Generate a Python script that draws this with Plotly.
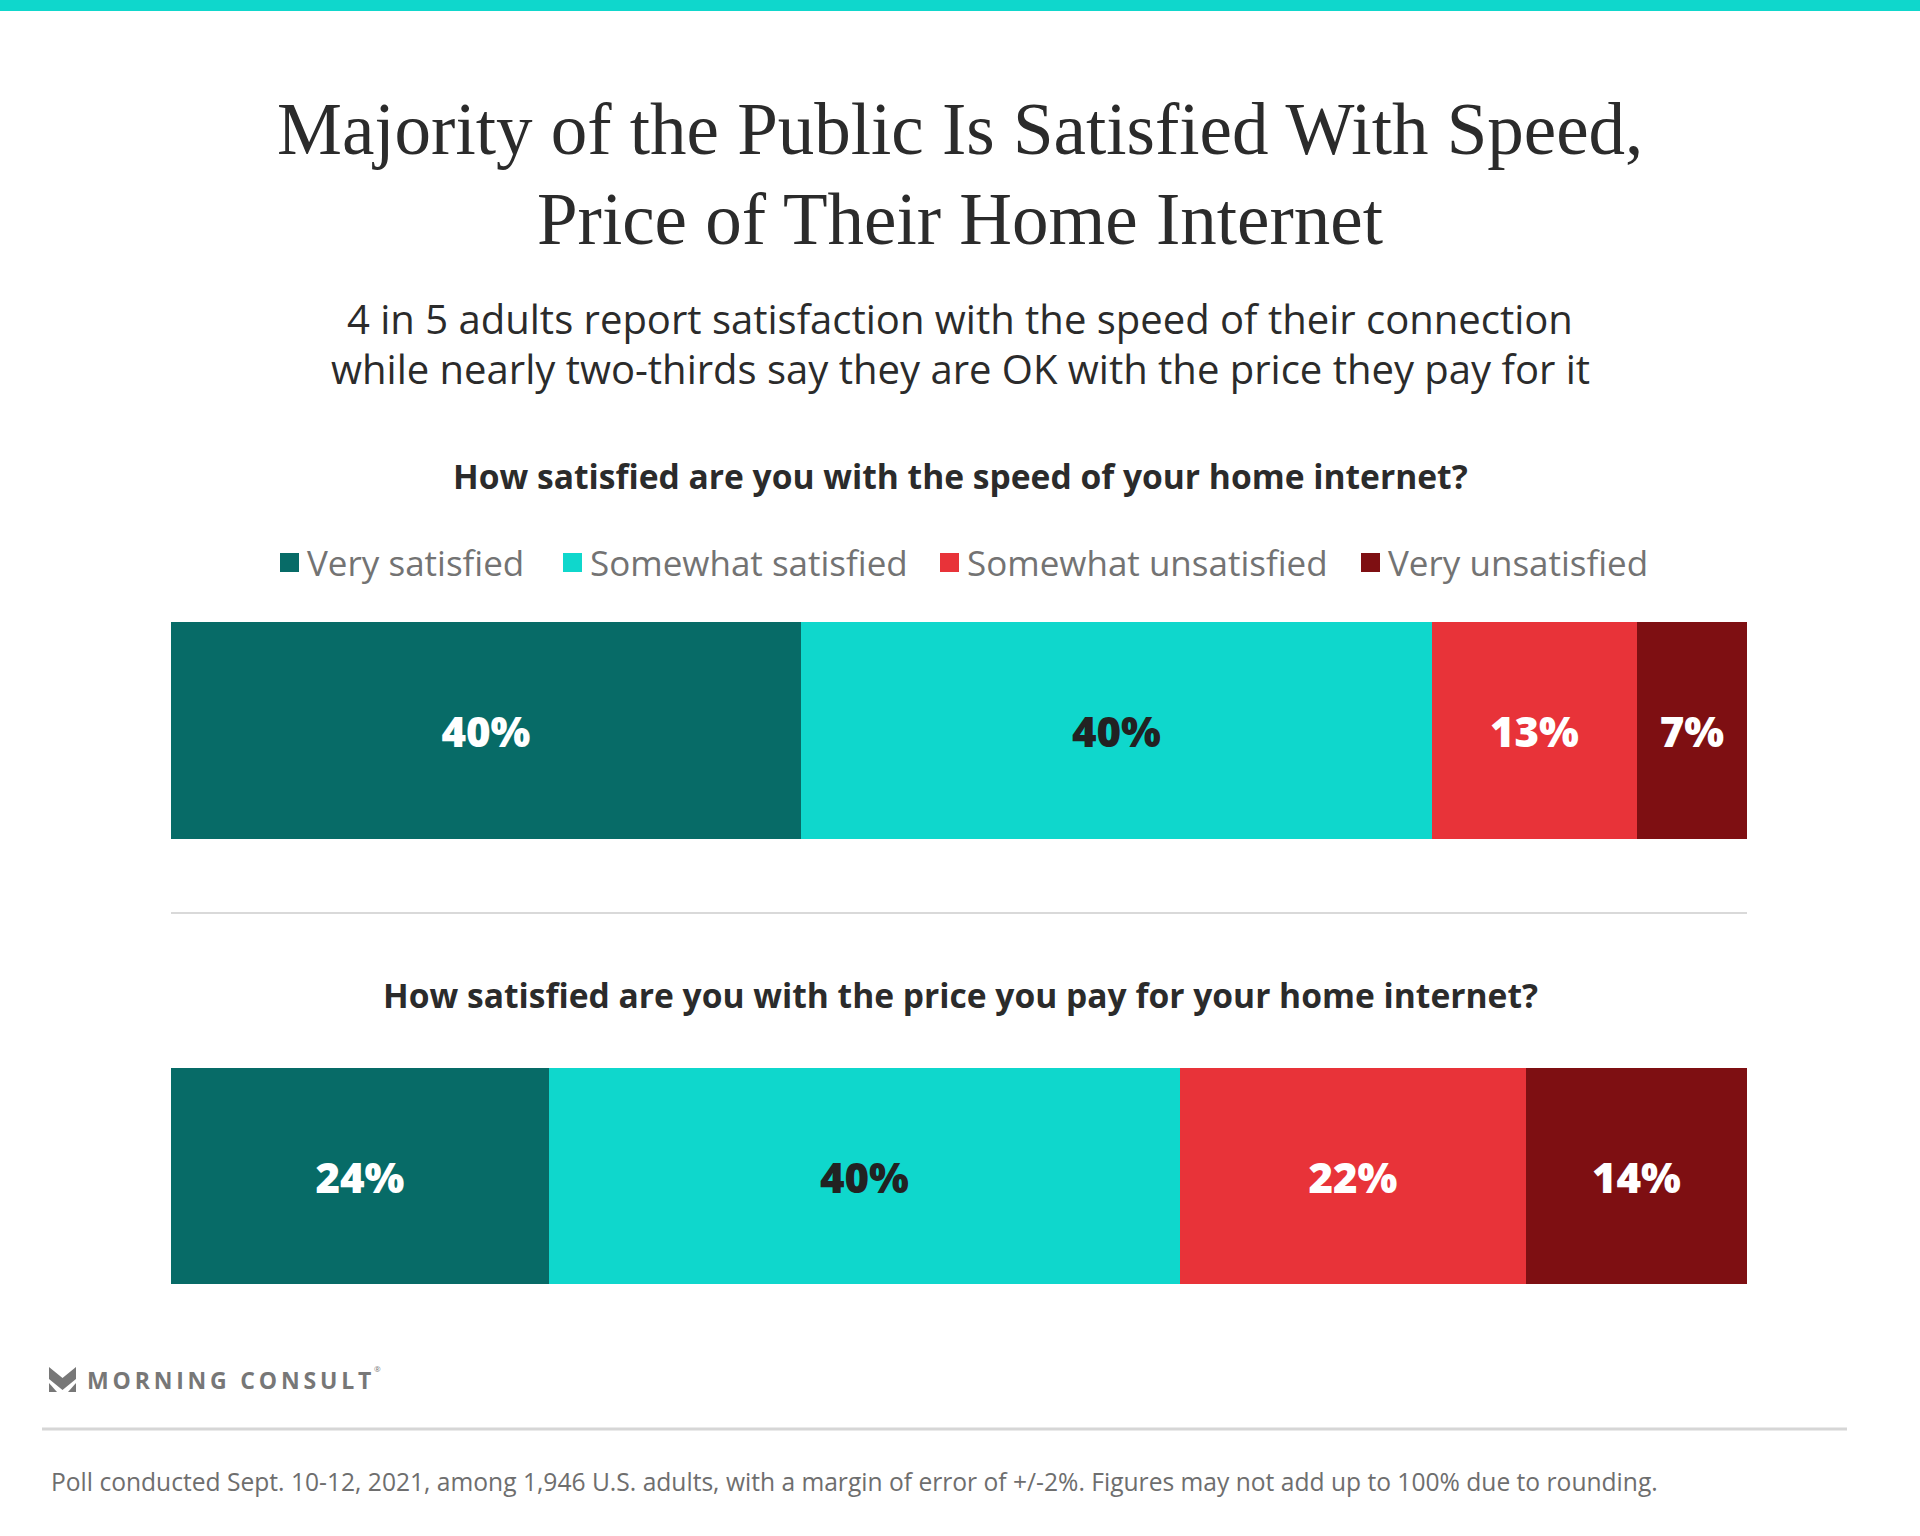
import plotly.graph_objects as go

W, H = 1920, 1536

categories = ["Very satisfied", "Somewhat satisfied", "Somewhat unsatisfied", "Very unsatisfied"]
speed_values = [40, 40, 13, 7]
price_values = [24, 40, 22, 14]
colors = ["#076B67", "#0FD7CC", "#E83339", "#7E0F12"]
label_colors = ["#FFFFFF", "#222222", "#FFFFFF", "#FFFFFF"]

title_lines = ["Majority of the Public Is Satisfied With Speed,", "Price of Their Home Internet"]
subtitle_lines = ["4 in 5 adults report satisfaction with the speed of their connection",
                  "while nearly two-thirds say they are OK with the price they pay for it"]
question1 = "How satisfied are you with the speed of your home internet?"
question2 = "How satisfied are you with the price you pay for your home internet?"
footer = "Poll conducted Sept. 10-12, 2021, among 1,946 U.S. adults, with a margin of error of +/-2%. Figures may not add up to 100% due to rounding."
brand = "MORNING CONSULT"

SANS = "Open Sans"
SERIF = "Liberation Serif"


def px(x):
    return x / W


def py(y):
    return 1 - y / H


fig = go.Figure()

for i, cat in enumerate(categories):
    for vals, yname, xa, ya in [(speed_values, "speed", "x", "y"), (price_values, "price", "x2", "y2")]:
        fig.add_trace(go.Bar(
            x=[vals[i]], y=[yname], orientation="h", name=cat,
            marker=dict(color=colors[i], line=dict(width=0)),
            texttemplate="%{x}%", textposition="inside", insidetextanchor="middle",
            textangle=0, constraintext="none",
            textfont=dict(family=SANS, size=42, color=label_colors[i], weight=800),
            xaxis=xa, yaxis=ya, showlegend=False, hoverinfo="skip",
        ))

x_dom = [px(171), px(1747)]
axis_common = dict(showgrid=False, zeroline=False, showticklabels=False, showline=False, fixedrange=True)
fig.update_layout(
    width=W, height=H,
    margin=dict(l=0, r=0, t=0, b=0),
    paper_bgcolor="white", plot_bgcolor="white",
    barmode="stack", bargap=0,
    xaxis=dict(domain=x_dom, range=[0, 100], **axis_common),
    yaxis=dict(domain=[py(839), py(622)], **axis_common),
    xaxis2=dict(domain=x_dom, range=[0, 100], anchor="y2", **axis_common),
    yaxis2=dict(domain=[py(1284), py(1068)], anchor="x2", **axis_common),
    uniformtext=dict(minsize=42, mode="show"),
)

shapes = []
# top accent bar
shapes.append(dict(type="rect", xref="paper", yref="paper", x0=0, x1=1, y0=py(11), y1=1,
                   fillcolor="#0FD7CC", line=dict(width=0)))
# separator between charts
shapes.append(dict(type="line", xref="paper", yref="paper", x0=px(171), x1=px(1747), y0=py(913), y1=py(913),
                   line=dict(color="#D9D9D9", width=2)))
# footer line
shapes.append(dict(type="line", xref="paper", yref="paper", x0=px(42), x1=px(1847), y0=py(1429), y1=py(1429),
                   line=dict(color="#D6D6D6", width=3)))

annotations = []
for txt, y in zip(title_lines, [129, 219]):
    annotations.append(dict(text=txt, x=0.5, y=py(y), xref="paper", yref="paper", showarrow=False,
                            xanchor="center", yanchor="middle",
                            font=dict(family=SERIF, size=73, color="#2B2B2B")))
for txt, y in zip(subtitle_lines, [318, 368]):
    annotations.append(dict(text=txt, x=0.5, y=py(y), xref="paper", yref="paper", showarrow=False,
                            xanchor="center", yanchor="middle",
                            font=dict(family=SANS, size=40, color="#2B2B2B")))
for txt, y in zip([question1, question2], [476, 995]):
    annotations.append(dict(text="<b>" + txt + "</b>", x=0.5, y=py(y), xref="paper", yref="paper",
                            showarrow=False, xanchor="center", yanchor="middle",
                            font=dict(family=SANS, size=33.6, color="#2B2B2B")))

# legend (custom)
legend_sq_x = [280, 563, 940, 1361]
for i, cat in enumerate(categories):
    x0 = legend_sq_x[i]
    shapes.append(dict(type="rect", xref="paper", yref="paper", x0=px(x0), x1=px(x0 + 19),
                       y0=py(572), y1=py(553), fillcolor=colors[i], line=dict(width=0)))
    annotations.append(dict(text=cat, x=px(x0 + 25), y=py(563), xref="paper", yref="paper", showarrow=False,
                            xanchor="left", yanchor="middle",
                            font=dict(family=SANS, size=35, color="#737373")))


def pth(points):
    return "M " + " L ".join(f"{px(a):.5f},{py(b):.5f}" for a, b in points) + " Z"


# logo icon
shapes.append(dict(type="path", xref="paper", yref="paper",
                   path=pth([(49, 1367), (62.5, 1378), (76, 1367), (76, 1379), (62.5, 1390), (49, 1379)]),
                   fillcolor="#777777", line=dict(width=0)))
shapes.append(dict(type="path", xref="paper", yref="paper",
                   path=pth([(49, 1383), (57, 1392), (49, 1392)]), fillcolor="#777777", line=dict(width=0)))
shapes.append(dict(type="path", xref="paper", yref="paper",
                   path=pth([(76, 1383), (68, 1392), (76, 1392)]), fillcolor="#777777", line=dict(width=0)))

annotations.append(dict(text="<b>" + "\u2009".join(brand) + "</b>", x=px(85), y=py(1380), xref="paper", yref="paper",
                        showarrow=False, xanchor="left", yanchor="middle",
                        font=dict(family=SANS, size=23, color="#777777")))
annotations.append(dict(text="®", x=px(372), y=py(1368), xref="paper", yref="paper",
                        showarrow=False, xanchor="left", yanchor="middle",
                        font=dict(family=SANS, size=8, color="#777777")))

annotations.append(dict(text=footer, x=px(49), y=py(1481), xref="paper", yref="paper", showarrow=False,
                        xanchor="left", yanchor="middle",
                        font=dict(family=SANS, size=24.6, color="#6E6E6E")))

fig.update_layout(shapes=shapes, annotations=annotations)
fig.write_html("out.html", config={"displayModeBar": False},
               post_script="document.body.style.margin='0px';")
